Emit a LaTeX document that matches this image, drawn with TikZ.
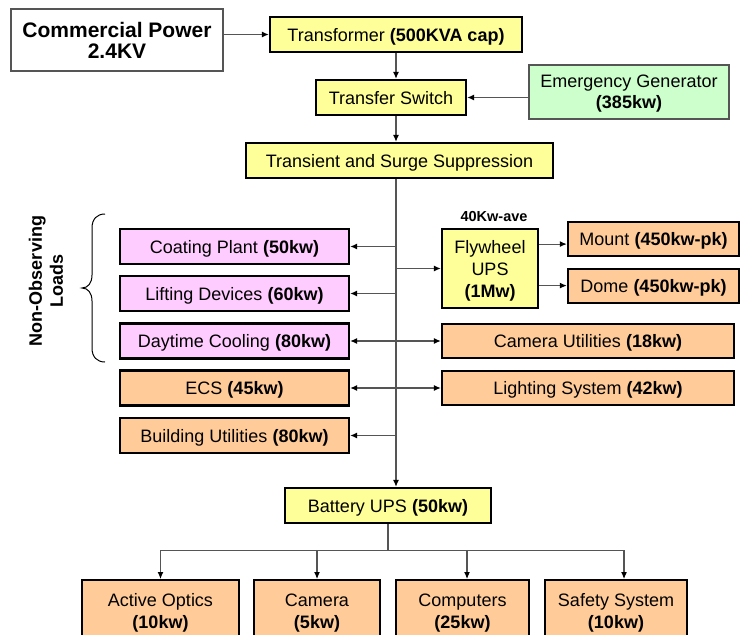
\documentclass[tikz,border=0pt]{standalone}
\usepackage{fontspec}
\setmainfont{Liberation Sans}
\usetikzlibrary{arrows.meta,calc}
\definecolor{yel}{HTML}{FFFF99}
\definecolor{pnk}{HTML}{FFCCFF}
\definecolor{org}{HTML}{FFCC99}
\definecolor{grn}{HTML}{CCFFCC}
\definecolor{lin}{HTML}{555555}
\begin{document}
\begin{tikzpicture}[x=1bp,y=-1bp,
  base/.style={draw=black,line width=2.4bp,inner sep=0pt,align=center,text depth=0pt,font=\fontsize{18bp}{22bp}\selectfont},
  ybox/.style={base,fill=yel},
  pbox/.style={base,fill=pnk,minimum width=229bp,minimum height=35bp},
  obox/.style={base,fill=org},
  thinbox/.style={draw=lin,line width=1.2bp,inner sep=0pt,align=center,text depth=0pt,font=\fontsize{18bp}{21bp}\selectfont},
  conn/.style={draw=lin,line width=1.1bp},
  arr/.style={conn,-{Latex[length=7bp,width=6bp,color=black]}},
  darr/.style={conn,{Latex[length=7bp,width=6bp,color=black]}-{Latex[length=7bp,width=6bp,color=black]}},
  botbox/.style={obox,anchor=north,minimum height=62bp}
]
\path[use as bounding box] (0,0) rectangle (740,635);
\clip (0,0) rectangle (740,635);

% top chain
\node[thinbox,fill=white,minimum width=212bp,minimum height=62bp,font=\bfseries\fontsize{21bp}{21bp}\selectfont] (cp) at (117,40) {Commercial Power\\2.4KV};
\node[ybox,minimum width=252bp,minimum height=35bp] (tr) at (396,34.5) {Transformer \textbf{(500KVA cap)}};
\node[ybox,minimum width=150bp,minimum height=35bp] (ts) at (391,97.5) {Transfer Switch};
\node[thinbox,fill=grn,minimum width=200bp,minimum height=54bp] (eg) at (629,92) {Emergency Generator\\\textbf{(385kw)}};
\node[ybox,minimum width=307bp,minimum height=35bp] (tss) at (399.5,160.5) {Transient and Surge Suppression};

% left loads
\node[pbox] (cpl) at (234.5,246.5) {Coating Plant \textbf{(50kw)}};
\node[pbox] (ld) at (234.5,293.5) {Lifting Devices \textbf{(60kw)}};
\node[pbox] (dc) at (234.5,341) {Daytime Cooling \textbf{(80kw)}};
\node[obox,minimum width=229bp,minimum height=35bp] (ecs) at (234.5,388) {ECS \textbf{(45kw)}};
\node[obox,minimum width=229bp,minimum height=35bp] (bu) at (234.5,435.5) {Building Utilities \textbf{(80kw)}};

% right loads
\node[ybox,minimum width=96bp,minimum height=79bp] (fw) at (490,268.5) {Flywheel\\UPS\\\textbf{(1Mw)}};
\node[font=\bfseries\fontsize{14.5bp}{14bp}\selectfont,inner sep=0pt] (fwl) at (494,217) {40Kw-ave};
\node[obox,minimum width=171bp,minimum height=34bp] (mt) at (653.5,239) {Mount \textbf{(450kw-pk)}};
\node[obox,minimum width=171bp,minimum height=34bp] (dm) at (653.5,286) {Dome \textbf{(450kw-pk)}};
\node[obox,minimum width=292bp,minimum height=34bp] (cu) at (588,341) {Camera Utilities \textbf{(18kw)}};
\node[obox,minimum width=292bp,minimum height=34bp] (ls) at (588,388) {Lighting System \textbf{(42kw)}};

% battery UPS and its loads
\node[ybox,minimum width=206bp,minimum height=35bp] (bup) at (388,505.5) {Battery UPS \textbf{(50kw)}};
\node[botbox,minimum width=157bp] (ao) at (160.5,579) {Active Optics\\\textbf{(10kw)}};
\node[botbox,minimum width=126bp] (cam) at (317,579) {Camera\\\textbf{(5kw)}};
\node[botbox,minimum width=133bp] (comp) at (462.5,579) {Computers\\\textbf{(25kw)}};
\node[botbox,minimum width=142bp] (ss) at (616,579) {Safety System\\\textbf{(10kw)}};

% brace and side label
\draw[line width=1bp] (105,214) .. controls (97,214) and (92,219) .. (92,228) -- (92,275)
  .. controls (92,283) and (88,288) .. (82,288) .. controls (88,288) and (92,293) .. (92,301)
  -- (92,348) .. controls (92,357) and (97,362) .. (105,362);
\node[rotate=90,align=center,inner sep=0pt,font=\bfseries\fontsize{18bp}{21bp}\selectfont] (nol) at (46,281) {Non-Observing\\Loads};

% connectors
\draw[arr] (cp.east |- tr.west) -- (tr.west);
\draw[arr] (tr.south) -- (tr.south |- ts.north);
\draw[arr] (eg.west |- ts.east) -- (ts.east);
\draw[arr] (tr.south |- ts.south) -- (tr.south |- tss.north);
\draw[arr] (tr.south |- tss.south) -- (tr.south |- bup.north);
\foreach \n in {cpl,ld,bu} \draw[arr] (tr.south |- \n.east) -- (\n.east);
\draw[arr] (tr.south |- fw.west) -- (fw.west);
\draw[darr] (dc.east) -- (cu.west);
\draw[darr] (ecs.east) -- (ls.west);
\coordinate (f1) at ($(fw.north east)!0.2!(fw.south east)$);
\coordinate (f2) at ($(fw.north east)!0.71!(fw.south east)$);
\draw[arr] (f1) -- (f1 -| mt.west);
\draw[arr] (f2) -- (f2 -| dm.west);

\coordinate (bus) at ($(bup.south)+(0,26)$);
\coordinate (a1) at (ao.north);
\coordinate (a2) at (cam.north);
\coordinate (a3) at ([xshift=4.5bp]comp.north);
\coordinate (a4) at ([xshift=8bp]ss.north);
\draw[conn] (bup.south) -- (bus);
\draw[conn] (bus -| a1) -- (bus -| a4);
\foreach \n in {a1,a2,a3,a4} \draw[arr] (bus -| \n) -- (\n);
\end{tikzpicture}
\end{document}
